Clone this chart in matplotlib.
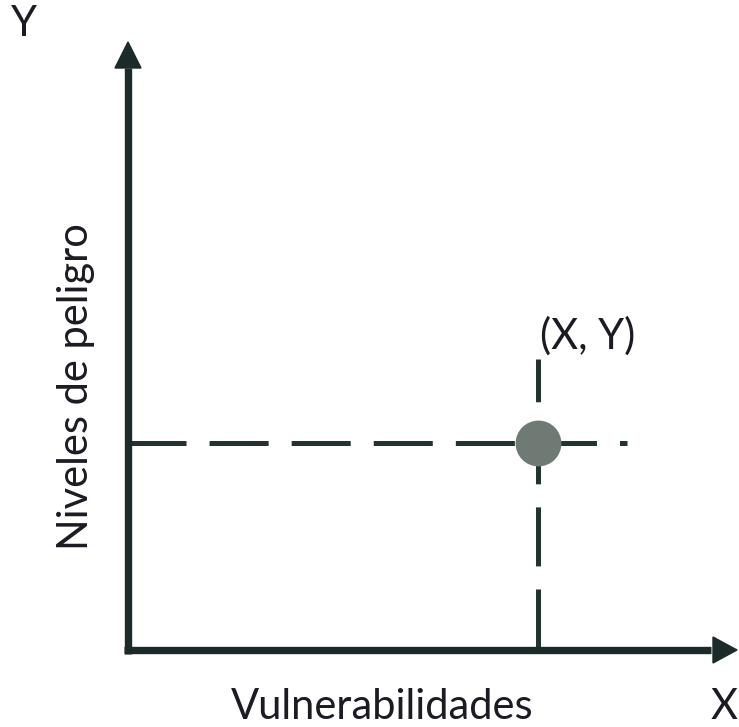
import matplotlib
matplotlib.use('Agg')
import matplotlib.pyplot as plt
from matplotlib.patches import Polygon

plt.rcParams['lines.scale_dashes'] = False
plt.rcParams['font.family'] = ['Lato', 'DejaVu Sans']

# ---- content ----
x_label = "Vulnerabilidades"
y_label = "Niveles de peligro"
x_axis_name = "X"
y_axis_name = "Y"
point_label = "(X, Y)"
point_x = [0.685]
point_y = [0.34]

W, H = 739, 727
AXIS_C = '#1c2a2a'
DASH_C = '#23332f'
DOT_C = '#6f7a75'
TXT_C = '#1b1b24'
FS = 30

fig = plt.figure(figsize=(W / 100, H / 100), dpi=100)
ox, oy = 128, 650      # pixel origin of the drawn axes
x1px, y1px = 727, 42   # pixel ends (arrow tips)
ax = fig.add_axes([ox / W, 1 - oy / H, (x1px - ox) / W, (oy - y1px) / H])
ax.set_xlim(0, 1)
ax.set_ylim(0, 1)
ax.axis('off')

sx = 1.0 / (x1px - ox)   # data units per pixel
sy = 1.0 / (oy - y1px)

# axis lines
ax.plot([0, 0], [-4 * sy, 1 - 26 * sy], lw=5.3, color=AXIS_C,
        solid_capstyle='butt', clip_on=False, zorder=2)
ax.plot([-4 * sx, 1 - 16 * sx], [0, 0], lw=5.3, color=AXIS_C,
        solid_capstyle='butt', clip_on=False, zorder=2)
# arrow heads
ax.add_patch(Polygon([(-13 * sx, 1 - 26 * sy), (13 * sx, 1 - 26 * sy), (0, 1)],
                     closed=True, color=AXIS_C, clip_on=False, zorder=2))
ax.add_patch(Polygon([(1 - 14 * sx, 13 * sy), (1 - 14 * sx, -13 * sy), (1 + 10 * sx, 0)],
                     closed=True, color=AXIS_C, clip_on=False, zorder=2))

# dashed guide lines
dash = (42.5, 16.6)
ax.plot([-1 * sx, point_x[0] + 89 * sx], [point_y[0], point_y[0]], lw=3.6,
        color=DASH_C, dashes=dash, dash_capstyle='butt', clip_on=False, zorder=1)
ax.plot([point_x[0], point_x[0]], [2 * sy, point_y[0] + 84 * sy], lw=3.6,
        color=DASH_C, dashes=dash, dash_capstyle='butt', clip_on=False, zorder=1)

# point
ax.plot(point_x, point_y, 'o', ms=33, color=DOT_C, mec='none', zorder=3, clip_on=False)

# texts
def ft(px, py, s, **kw):
    fig.text(px / W, 1 - py / H, s, color=TXT_C, fontsize=FS, ha='center', va='center', **kw)

ft(24, 24, y_axis_name)
ft(724, 707, x_axis_name)
ft(382, 707, x_label)
ft(76, 387, y_label, rotation=90)
ft(588, 336, point_label)

fig.savefig('out.png', dpi=100, facecolor='white')
